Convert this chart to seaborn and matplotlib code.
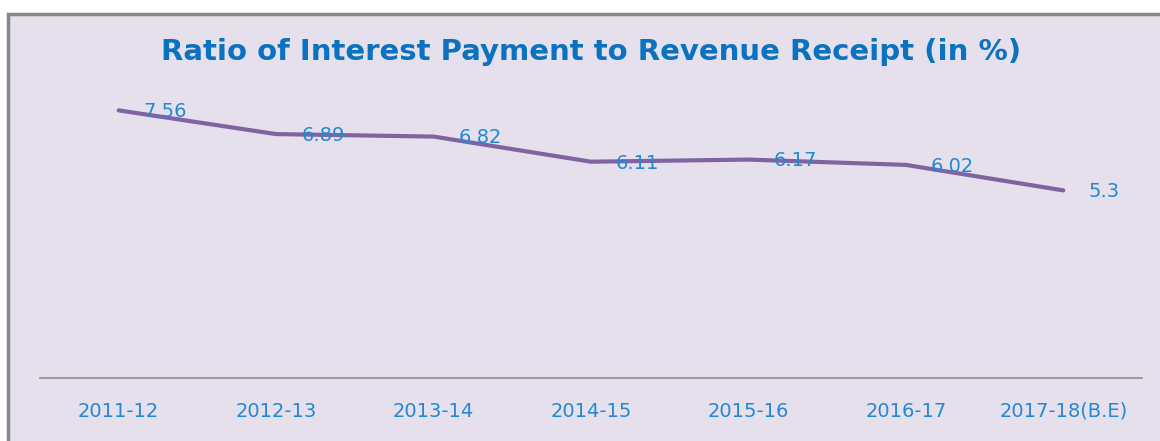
import matplotlib

matplotlib.use("Agg")

import matplotlib.pyplot as plt
import pandas as pd
import seaborn as sns
from matplotlib.patches import Rectangle

years = ["2011-12", "2012-13", "2013-14", "2014-15", "2015-16", "2016-17", "2017-18(B.E)"]
ratio = [7.56, 6.89, 6.82, 6.11, 6.17, 6.02, 5.3]
value_labels = ["7.56", "6.89", "6.82", "6.11", "6.17", "6.02", "5.3"]

BG = "#E6E0EC"
LINE = "#8064A2"
TITLE_BLUE = "#0A72BF"
TEXT_BLUE = "#2388D3"

sns.set_style("white")
plt.rcParams["font.family"] = ["DejaVu Sans"]

df = pd.DataFrame({"year": years, "ratio": ratio})

fig = plt.figure(figsize=(11.6, 4.41), dpi=100)
fig.patch.set_facecolor("white")

# chart frame (lavender box with grey border, cut off at right/bottom)
W, H = 1160, 441
frame = Rectangle((8 / W, -0.05), 1.2, (441 - 14) / H + 0.05,
                  transform=fig.transFigure, facecolor=BG,
                  edgecolor="#878787", linewidth=2.5, zorder=-10)
fig.patches.append(frame)

ax = fig.add_axes([40 / W, (H - 378) / H, (1142 - 40) / W, (378 - 59.4) / H])
ax.set_facecolor("none")

sns.lineplot(data=df, x="year", y="ratio", sort=False, color=LINE,
             linewidth=3, ax=ax)

for i, (v, lab) in enumerate(zip(ratio, value_labels)):
    ax.annotate(lab, (i, v), xytext=(18, -1), textcoords="offset points",
                ha="left", va="center", fontsize=14, color=TEXT_BLUE)

ax.set_xlim(-0.5, 6.5)
ax.set_ylim(0, 9)
ax.set_xlabel("")
ax.set_ylabel("")
ax.set_yticks([])
for side in ["top", "left", "right"]:
    ax.spines[side].set_visible(False)
ax.spines["bottom"].set_color("#8c8c8c")
ax.spines["bottom"].set_linewidth(1.2)
ax.tick_params(axis="x", length=0, pad=17, labelsize=14, labelcolor=TEXT_BLUE)

fig.text(591 / W, 1 - 52 / H, "Ratio of Interest Payment to Revenue Receipt (in %)",
         ha="center", va="center", fontsize=21, fontweight="bold", color=TITLE_BLUE)

fig.savefig("out.png", dpi=100)
